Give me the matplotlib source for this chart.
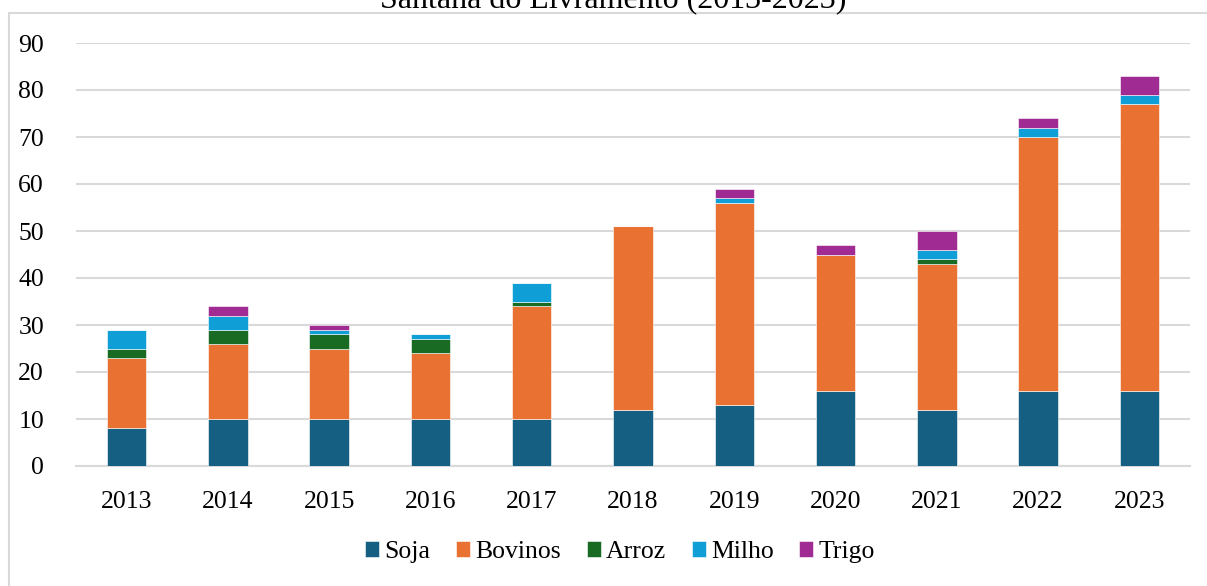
import matplotlib.pyplot as plt
import numpy as np
from matplotlib.patches import Rectangle

plt.rcParams['font.family'] = ['Liberation Serif', 'DejaVu Serif']

anos = ['2013', '2014', '2015', '2016', '2017', '2018',
        '2019', '2020', '2021', '2022', '2023']
soja = [8, 10, 10, 10, 10, 12, 13, 16, 12, 16, 16]
bovinos = [15, 16, 15, 14, 24, 39, 43, 29, 31, 54, 61]
arroz = [2, 3, 3, 3, 1, 0, 0, 0, 1, 0, 0]
milho = [4, 3, 1, 1, 4, 0, 1, 0, 2, 2, 2]
trigo = [0, 2, 1, 0, 0, 0, 2, 2, 4, 2, 4]

series = [('Soja', soja, '#156082'),
          ('Bovinos', bovinos, '#E97132'),
          ('Arroz', arroz, '#196B24'),
          ('Milho', milho, '#0F9ED5'),
          ('Trigo', trigo, '#A02B93')]

W, H = 1207, 586
fig = plt.figure(figsize=(W / 100, H / 100), dpi=100)

# outer chart frame (partially cut, as in the source)
fig.patches.append(Rectangle((9 / W, -0.05), 1.2, 1 - 13 / H + 0.05,
                             transform=fig.transFigure, fill=False,
                             edgecolor='#d9d9d9', linewidth=1.5))

# title sits mostly above the visible area, like the cropped source
fig.text(613 / W, 1 - 8 / H, 'Santana do Livramento (2013-2023)',
         ha='center', va='baseline', fontsize=23)

ax = fig.add_axes([76 / W, 120 / H, (1190 - 76) / W, (466 - 43) / H])

x = np.arange(len(anos))
bottom = np.zeros(len(anos))
for nome, vals, cor in series:
    ax.bar(x, vals, width=0.39, bottom=bottom, color=cor, label=nome,
           edgecolor='white', linewidth=0.4, zorder=3)
    bottom += np.array(vals)

ax.set_xlim(-0.5, len(anos) - 0.5)
ax.set_ylim(0, 90)
ax.set_yticks(range(0, 91, 10))
ax.set_xticks(x)
ax.set_xticklabels(anos)
ax.grid(axis='y', color='#d9d9d9', linewidth=1.5, zorder=0)
ax.tick_params(length=0, labelsize=18.5, colors='black')
ax.tick_params(axis='y', pad=23)
ax.tick_params(axis='x', pad=18)
for s in ['top', 'right', 'left']:
    ax.spines[s].set_visible(False)
ax.spines['bottom'].set_color('#d9d9d9')
ax.spines['bottom'].set_linewidth(1.5)

fig.legend(loc='center', bbox_to_anchor=(620 / W, 1 - 552 / H), ncol=5,
           frameon=False, fontsize=18.5, handlelength=0.55, handleheight=0.55,
           handletextpad=0.2, columnspacing=1.0)

fig.savefig('out.png', dpi=100)
